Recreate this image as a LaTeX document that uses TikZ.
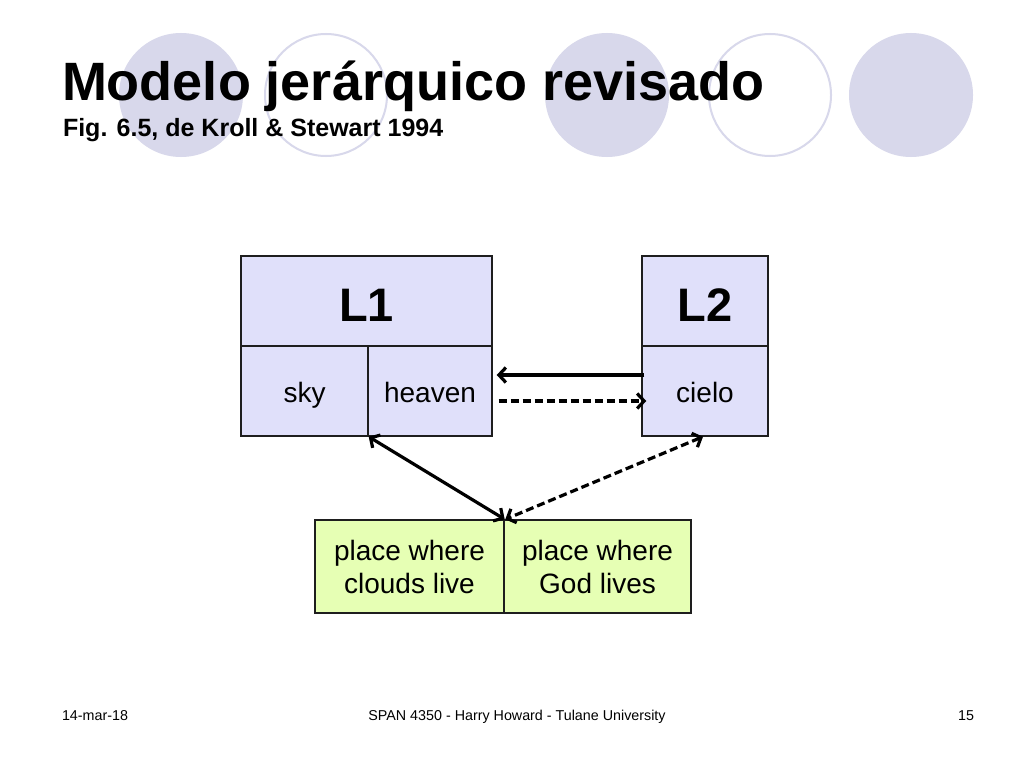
\documentclass[tikz,border=0pt]{standalone}
\usepackage{fontspec}
\setmainfont{Liberation Sans}
\usetikzlibrary{arrows.meta}
\definecolor{circfill}{RGB}{216,216,235}
\definecolor{boxblue}{RGB}{224,224,250}
\definecolor{boxgreen}{RGB}{230,255,180}
\definecolor{edge}{RGB}{30,30,30}
\tikzset{
  deco/.style={fill=circfill, draw=none},
  decoring/.style={draw=circfill, line width=2pt, fill=none},
  cell/.style={draw=edge, line width=1.4pt, fill=boxblue, inner sep=0pt, minimum height=90pt, align=center},
  gcell/.style={draw=edge, line width=1.4pt, fill=boxgreen, inner sep=0pt, minimum height=93pt, align=center, font=\fontsize{28}{33}\selectfont},
  bigtxt/.style={font=\fontsize{47}{52}\selectfont\bfseries, text height=40pt, text depth=0pt},
  midtxt/.style={font=\fontsize{28}{33}\selectfont, text height=22pt, text depth=0pt},
  plain/.style={inner sep=0pt, outer sep=0pt},
  link/.style={line width=3.2pt, {Straight Barb[length=7pt,width=15pt]}-{Straight Barb[length=7pt,width=15pt]}},
  onearrow/.style={line width=3.2pt, -{Straight Barb[length=7pt,width=15pt]}},
  dashlink/.style={dash pattern=on 8pt off 4pt}
}
\begin{document}
\begin{tikzpicture}[x=1pt,y=-1pt]
\useasboundingbox (0,0) rectangle (1024,768);
\fill[white] (0,0) rectangle (1024,768);
% decorative circles
\fill[deco] (181,95) circle[radius=62];
\draw[decoring] (326,95) circle[radius=61];
\fill[deco] (607,95) circle[radius=62];
\draw[decoring] (770,95) circle[radius=61];
\fill[deco] (911,95) circle[radius=62];
% title
\node[plain, anchor=base west, font=\fontsize{54}{60}\selectfont\bfseries] (title) at (62,100) {Modelo jerárquico revisado};
\node[plain, anchor=base west, font=\fontsize{25}{28}\selectfont\bfseries] (subtitle) at (63,136) {Fig. 6.5, de Kroll \& Stewart 1994};
% boxes
\node[cell, minimum width=251pt, bigtxt] (L1) at (366.5,301) {L1};
\node[cell, minimum width=127pt, midtxt] (sky) at (304.5,391) {sky};
\node[cell, minimum width=124pt, midtxt] (heaven) at (430,391) {heaven};
\node[cell, minimum width=126pt, bigtxt] (L2) at (705,301) {L2};
\node[cell, minimum width=126pt, midtxt] (cielo) at (705,391) {cielo};
\node[gcell, minimum width=189pt] (clouds) at (409.5,566.5) {place where\\clouds live};
\node[gcell, minimum width=187pt] (god) at (597.5,566.5) {place where\\God lives};
% connectors
\draw[onearrow] ([xshift=3pt,yshift=16pt]cielo.west) -- ([xshift=4pt,yshift=16pt]heaven.east);
\draw[onearrow, dashlink] ([xshift=6pt,yshift=-10pt]heaven.east) -- ([xshift=5pt,yshift=-10pt]cielo.west);
\draw[link] (sky.south east) -- (clouds.north east);
\draw[link, dashlink] ([xshift=-2pt]cielo.south) -- ([xshift=2pt]god.north west);
% footer
\node[plain, anchor=base west, font=\fontsize{14.3}{17}\selectfont] (date) at (62,720) {14-mar-18};
\node[plain, anchor=base, font=\fontsize{14.3}{17}\selectfont] (course) at (517,720) {SPAN 4350 - Harry Howard - Tulane University};
\node[plain, anchor=base east, font=\fontsize{14.3}{17}\selectfont] (page) at (974,720) {15};
\end{tikzpicture}
\end{document}
